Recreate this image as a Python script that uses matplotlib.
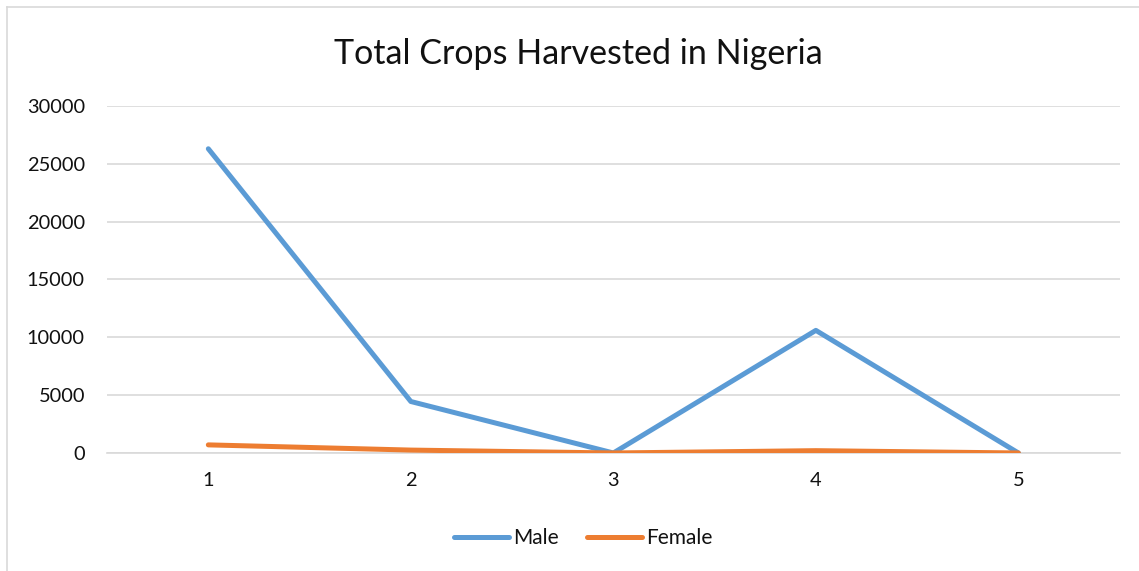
import matplotlib.pyplot as plt
from matplotlib.lines import Line2D

# datos
categorias = [1, 2, 3, 4, 5]
male = [26300, 4450, 0, 10600, 0]
female = [700, 250, 0, 200, 0]
yticks = [0, 5000, 10000, 15000, 20000, 25000, 30000]

plt.rcParams['font.family'] = ['Lato', 'DejaVu Sans']

fig = plt.figure(figsize=(11.39, 5.71), dpi=100)
ax = fig.add_axes([0.094, 0.2067, 0.889, 0.6077])

ax.plot(categorias, male, color='#5B9BD5', lw=3.6, solid_capstyle='round',
        solid_joinstyle='round', label='Male', zorder=3)
ax.plot(categorias, female, color='#ED7D31', lw=3.6, solid_capstyle='round',
        solid_joinstyle='round', label='Female', zorder=3)

ax.set_xlim(0.5, 5.5)
ax.set_ylim(0, 30000)
ax.set_yticks(yticks)
ax.set_yticklabels([str(v) for v in yticks])
ax.set_xticks(categorias)
ax.grid(axis='y', color='#D9D9D9', lw=1.2)
ax.set_axisbelow(True)
for s in ['top', 'right', 'left']:
    ax.spines[s].set_visible(False)
ax.spines['bottom'].set_color('#D9D9D9')
ax.spines['bottom'].set_linewidth(1.2)
ax.tick_params(length=0, labelsize=14.4, colors='#111111', pad=16)
ax.tick_params(axis='x', pad=14)

fig.text(0.508, 0.906, 'Total Crops Harvested in Nigeria', ha='center', va='center',
         fontsize=24.5, color='#111111')

handles = [Line2D([], [], color='#5B9BD5', lw=3.6, solid_capstyle='round'),
           Line2D([], [], color='#ED7D31', lw=3.6, solid_capstyle='round')]
fig.legend(handles, ['Male', 'Female'], loc='center', bbox_to_anchor=(0.512, 0.058),
           ncol=2, frameon=False, fontsize=15, handlelength=2.65, handletextpad=0.2,
           columnspacing=1.35, labelcolor='#111111')

# borde del area del grafico
fig.add_artist(Line2D([0.0061, 0.0061], [0, 0.988], transform=fig.transFigure,
                      color='#D9D9D9', lw=1.2))
fig.add_artist(Line2D([0.0061, 1.0], [0.988, 0.988], transform=fig.transFigure,
                      color='#D9D9D9', lw=1.2))

fig.savefig('out.png', dpi=100)
